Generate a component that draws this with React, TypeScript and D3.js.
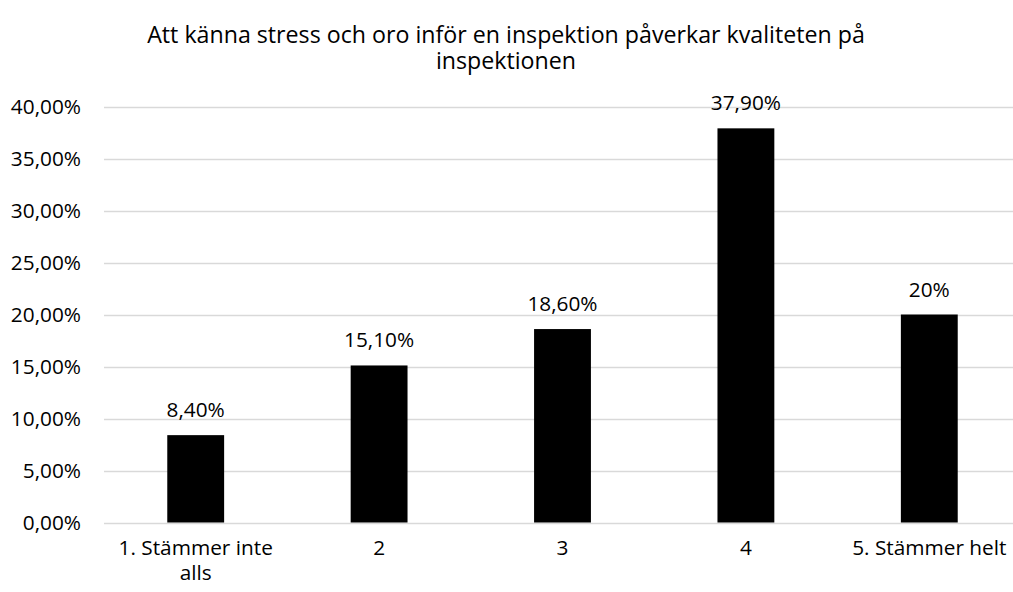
import React, { useEffect, useRef } from 'react';
import * as d3 from 'd3';

const title = 'Att känna stress och oro inför en inspektion påverkar kvaliteten på inspektionen';
const categories = ['1. Stämmer inte alls', '2', '3', '4', '5. Stämmer helt'];
const values = [0.084, 0.151, 0.186, 0.379, 0.2];
const valueLabels = ['8,40%', '15,10%', '18,60%', '37,90%', '20%'];
const yTicks = [0, 0.05, 0.1, 0.15, 0.2, 0.25, 0.3, 0.35, 0.4];

const WIDTH = 1013;
const HEIGHT = 592;
const FONT = '"Open Sans", Lato, sans-serif';
const LABEL_SIZE = 20.8;

function wrapText(text: d3.Selection<SVGTextElement, any, any, any>, maxWidth: number, lineHeight: number) {
  text.each(function wrap() {
    const node = d3.select(this);
    const words = node.text().split(/\s+/);
    const x = node.attr('x');
    node.text(null);
    let line: string[] = [];
    let tspan = node.append('tspan').attr('x', x).attr('dy', 0);
    words.forEach((word) => {
      line.push(word);
      tspan.text(line.join(' '));
      if ((tspan.node() as SVGTSpanElement).getComputedTextLength() > maxWidth && line.length > 1) {
        line.pop();
        tspan.text(line.join(' '));
        line = [word];
        tspan = node.append('tspan').attr('x', x).attr('dy', lineHeight).text(word);
      }
    });
  });
}

function drawChart(node: SVGSVGElement) {
  const svg = d3.select(node);
  svg.selectAll('*').remove();

  const left = 104;
  const right = 1021;
  const top = 106.5;
  const bottom = 522.5;

  const x = d3.scaleBand<string>().domain(categories).range([left, right]).paddingInner(0.69).paddingOuter(0.345);
  const y = d3.scaleLinear().domain([0, 0.4]).range([bottom, top]);
  const fmt = (v: number) => d3.format('.2f')(v * 100).replace('.', ',') + '%';

  svg.append('rect').attr('width', WIDTH).attr('height', HEIGHT).attr('fill', '#fff');

  // gridlines
  svg.append('g')
    .selectAll('line')
    .data(yTicks)
    .join('line')
    .attr('x1', left)
    .attr('x2', right)
    .attr('y1', (d) => Math.round(y(d)) + 0.5)
    .attr('y2', (d) => Math.round(y(d)) + 0.5)
    .attr('stroke', '#d9d9d9')
    .attr('stroke-width', 1.3);

  // y tick labels
  svg.append('g')
    .selectAll('text')
    .data(yTicks)
    .join('text')
    .attr('x', 81)
    .attr('y', (d) => y(d))
    .attr('dy', '0.35em')
    .attr('text-anchor', 'end')
    .attr('font-family', FONT)
    .attr('font-size', LABEL_SIZE)
    .attr('fill', '#000')
    .text(fmt);

  // bars
  svg.append('g')
    .selectAll('rect')
    .data(values)
    .join('rect')
    .attr('x', (_, i) => x(categories[i]) as number)
    .attr('y', (d) => y(d))
    .attr('width', x.bandwidth())
    .attr('height', (d) => bottom - y(d))
    .attr('fill', '#000');

  // value labels
  svg.append('g')
    .selectAll('text')
    .data(values)
    .join('text')
    .attr('x', (_, i) => (x(categories[i]) as number) + x.bandwidth() / 2)
    .attr('y', (d) => y(d) - 18)
    .attr('text-anchor', 'middle')
    .attr('font-family', FONT)
    .attr('font-size', LABEL_SIZE)
    .attr('fill', '#000')
    .text((_, i) => valueLabels[i]);

  // category labels
  svg.append('g')
    .selectAll('text')
    .data(categories)
    .join('text')
    .attr('x', (d) => (x(d) as number) + x.bandwidth() / 2)
    .attr('y', 555)
    .attr('text-anchor', 'middle')
    .attr('font-family', FONT)
    .attr('font-size', LABEL_SIZE)
    .attr('fill', '#000')
    .text((d) => d)
    .call(wrapText, 170, 25);

  // title
  svg.append('text')
    .attr('x', 506)
    .attr('y', 43)
    .attr('text-anchor', 'middle')
    .attr('font-family', FONT)
    .attr('font-size', 23.2)
    .attr('fill', '#000')
    .text(title)
    .call(wrapText, 760, 26);
}

export default function App() {
  const ref = useRef<SVGSVGElement>(null);

  useEffect(() => {
    if (ref.current) drawChart(ref.current);
  }, []);

  return (
    <svg
      ref={ref}
      width={WIDTH}
      height={HEIGHT}
      style={{ position: 'absolute', left: 0, top: 0, display: 'block' }}
    />
  );
}
